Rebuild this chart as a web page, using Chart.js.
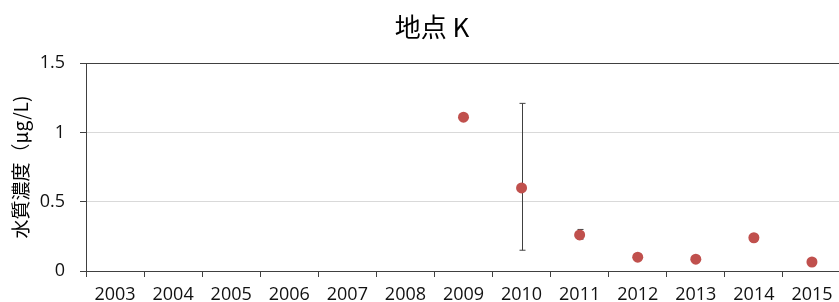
<!DOCTYPE html>
<html>
<head>
<meta charset="utf-8">
<script src="https://cdn.jsdelivr.net/npm/chart.js@4/dist/chart.umd.min.js"></script>
<style>
  html, body { margin: 0; padding: 0; background: #fff; }
  #wrap { width: 839px; height: 302px; overflow: hidden; position: relative; }
  #wrap canvas { position: absolute; left: 0; top: 0; }
</style>
</head>
<body>
<div id="wrap"><canvas id="chart" width="864" height="302"></canvas></div>
<script>
const years = ['2003', '2004', '2005', '2006', '2007', '2008', '2009', '2010', '2011', '2012', '2013', '2014', '2015'];
const concentration = [null, null, null, null, null, null, 1.11, 0.60, 0.26, 0.10, 0.085, 0.24, 0.065];
const errLow = [null, null, null, null, null, null, null, 0.15, 0.23, null, null, null, null];
const errHigh = [null, null, null, null, null, null, null, 1.21, 0.30, null, null, null, null];
const yTicks = [0, 0.5, 1, 1.5];

const axisDark = '#404040';
const gridLight = '#d9d9d9';
const pointRed = '#c0504d';
const labelFont = { family: 'Open Sans', size: 18 };

// error bars drawn through the scales, under the points
const errorBars = {
    id: 'errorBars',
    beforeDatasetsDraw(chart) {
        const { ctx, scales: { x, y } } = chart;
        ctx.save();
        ctx.strokeStyle = axisDark;
        ctx.lineWidth = 1;
        years.forEach((yr, i) => {
            if (errLow[i] == null || errHigh[i] == null) return;
            const px = Math.round(x.getPixelForValue(i)) + 0.5;
            const top = y.getPixelForValue(errHigh[i]);
            const bot = y.getPixelForValue(errLow[i]);
            ctx.beginPath();
            ctx.moveTo(px, top);
            ctx.lineTo(px, bot);
            ctx.moveTo(px - 3, top);
            ctx.lineTo(px + 3, top);
            ctx.moveTo(px - 3, bot);
            ctx.lineTo(px + 3, bot);
            ctx.stroke();
        });
        ctx.restore();
    }
};

new Chart(document.getElementById('chart').getContext('2d'), {
    type: 'line',
    data: {
        labels: years,
        datasets: [{
            label: '地点 K',
            data: concentration,
            showLine: false,
            pointRadius: 5.5,
            pointHoverRadius: 5.5,
            pointBackgroundColor: pointRed,
            pointBorderColor: pointRed,
            pointBorderWidth: 0,
        }],
    },
    options: {
        responsive: false,
        animation: false,
        devicePixelRatio: 1,
        layout: { padding: { left: 23, right: 23, top: 0, bottom: 0 } },
        plugins: {
            legend: { display: false },
            tooltip: { enabled: false },
            title: {
                display: true,
                text: '地点 K',
                color: '#000',
                font: { family: 'Noto Sans CJK JP', size: 26, weight: 'normal' },
                padding: { top: 12, bottom: 20 },
            },
        },
        scales: {
            x: {
                offset: true,
                grid: {
                    offset: true,
                    drawOnChartArea: false,
                    drawTicks: true,
                    tickLength: 6,
                    tickColor: axisDark,
                },
                border: { color: axisDark, width: 1 },
                ticks: { color: '#111', font: labelFont, padding: 7, maxRotation: 0, autoSkip: false },
                afterFit: (scale) => { scale.height = 31; },
            },
            y: {
                min: 0,
                max: 1.5,
                afterBuildTicks: (scale) => { scale.ticks = yTicks.map((v) => ({ value: v })); },
                grid: {
                    color: (c) => (c.tick && (c.tick.value === 1.5 || c.tick.value === 0) ? axisDark : gridLight),
                    tickColor: axisDark,
                    tickLength: 6,
                },
                border: { color: axisDark, width: 1 },
                ticks: { color: '#111', font: labelFont, padding: 15, callback: (v) => String(v) },
                title: {
                    display: true,
                    text: '水質濃度（μg/L)',
                    color: '#000',
                    font: { family: 'Noto Sans CJK JP', size: 19 },
                    padding: { top: -14, bottom: 0 },
                },
                afterFit: (scale) => { scale.width = 63; },
            },
        },
    },
    plugins: [errorBars],
});
</script>
</body>
</html>
